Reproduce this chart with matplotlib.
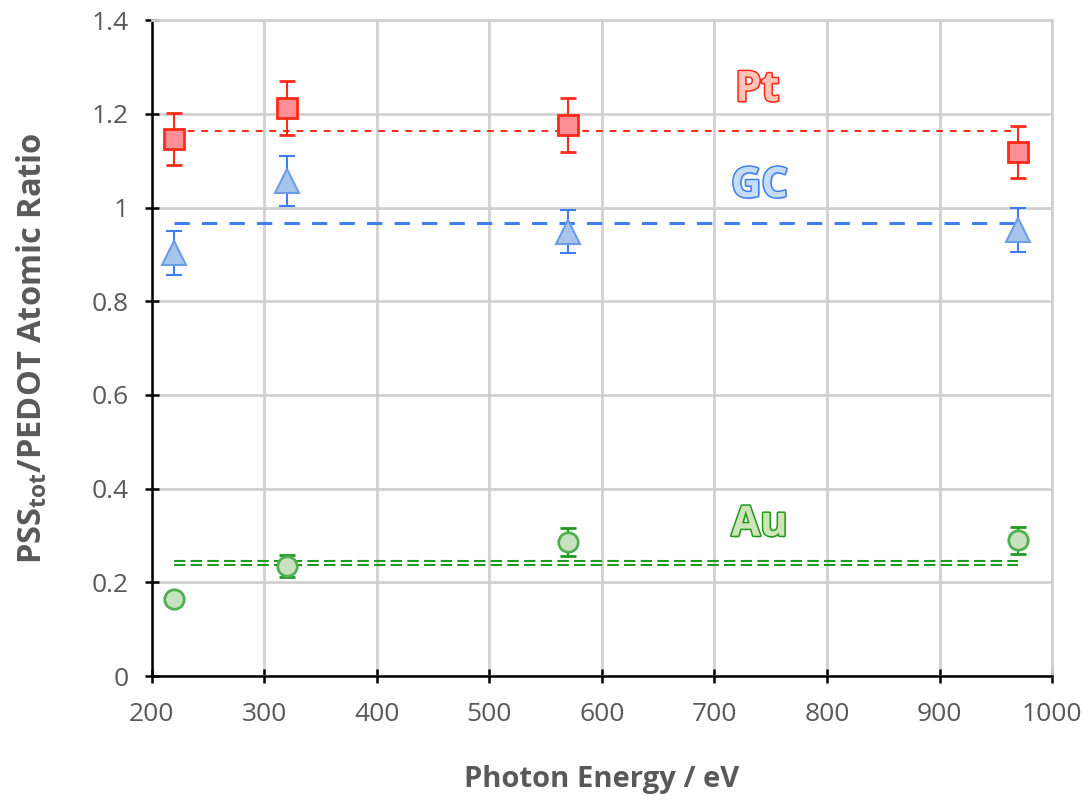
import numpy as np
import matplotlib.pyplot as plt
import matplotlib.patheffects as pe

plt.rcParams['font.family'] = ['Open Sans', 'DejaVu Sans']

# photon energies (eV)
energy = [220, 320, 570, 970]

# PSS_tot / PEDOT ratio for each substrate
pt_ratio = [1.146, 1.212, 1.176, 1.118]
pt_err = [0.056, 0.058, 0.057, 0.056]
gc_ratio = [0.903, 1.056, 0.948, 0.952]
gc_err = [0.046, 0.053, 0.046, 0.046]
au_ratio = [0.164, 0.235, 0.286, 0.290]
au_err = [0.0, 0.023, 0.030, 0.029]

# averages over all energies
pt_mean = 1.163
gc_mean = 0.967
au_mean = 0.241

x_ticks = [200, 300, 400, 500, 600, 700, 800, 900, 1000]
y_ticks = [0, 0.2, 0.4, 0.6, 0.8, 1, 1.2, 1.4]
y_ticklabels = ['0', '0.2', '0.4', '0.6', '0.8', '1', '1.2', '1.4']

red = '#ff2a1a'
blue = '#3f7ef0'
green = '#1f9a1f'
grey_txt = '#595959'

fig = plt.figure(figsize=(10.85, 8.05), dpi=100)
ax = fig.add_axes([0.140, 0.1602, 0.8296, 0.8148])

ax.set_xlim(200, 1000)
ax.set_ylim(0, 1.4)
ax.set_xticks(x_ticks)
ax.set_yticks(y_ticks)
ax.set_yticklabels(y_ticklabels)
ax.grid(True, color='#d0d0d0', linewidth=2)
ax.set_axisbelow(True)

for side in ['top', 'right']:
    ax.spines[side].set_color('#d0d0d0')
    ax.spines[side].set_linewidth(2)
for side in ['left', 'bottom']:
    ax.spines[side].set_color('black')
    ax.spines[side].set_linewidth(1.8)
ax.tick_params(direction='inout', length=10, width=1.8, colors='black',
               labelcolor=grey_txt, labelsize=19)
ax.tick_params(axis='y', pad=12)
ax.tick_params(axis='x', pad=14)

# mean lines
ax.plot([energy[0], energy[-1]], [pt_mean, pt_mean], color=red, lw=1.4,
        dashes=(3.5, 3.5))
ax.plot([energy[0], energy[-1]], [gc_mean, gc_mean], color=blue, lw=2.2,
        dashes=(5, 4))
for off in (0.0036, -0.0036):
    ax.plot([energy[0], energy[-1]], [au_mean + off, au_mean + off],
            color=green, lw=1.5, dashes=(5.5, 2.5))

ax.errorbar(energy, pt_ratio, yerr=pt_err, fmt='s', ms=15, mfc='#ff8f96',
            mec=red, mew=2, ecolor=red, elinewidth=1.5, capsize=6, capthick=1.5)
ax.errorbar(energy, gc_ratio, yerr=gc_err, fmt='^', ms=17, mfc='#a7c5ea',
            mec='#6b9de8', mew=1.5, ecolor=blue, elinewidth=1.5, capsize=6,
            capthick=1.5)
ax.errorbar(energy, au_ratio, yerr=au_err, fmt='o', ms=14, mfc='#c8e2c0',
            mec='#4fb04f', mew=2, ecolor=green, elinewidth=1.5, capsize=6,
            capthick=1.5)

label_kw = dict(fontsize=30, fontweight='bold', ha='center', va='center')


def outlined(edge):
    return [pe.SimplePatchShadow(offset=(1.5, -1.5), shadow_rgbFace='#999999',
                                 alpha=0.35),
            pe.withStroke(linewidth=2.2, foreground=edge)]


ax.text(738, 1.250, 'Pt', color='#ffc6b8', path_effects=outlined(red),
        **label_kw)
ax.text(740, 1.045, 'GC', color='#c6dcf6', path_effects=outlined(blue),
        **label_kw)
ax.text(740, 0.322, 'Au', color='#cfe5b8', path_effects=outlined(green),
        **label_kw)

ax.set_xlabel('Photon Energy / eV', fontsize=21, fontweight='bold',
              color=grey_txt, labelpad=27)
ax.set_ylabel(r'PSS$_{\mathregular{tot}}$/PEDOT Atomic Ratio', fontsize=23.5,
              fontweight='bold', color=grey_txt, labelpad=30)

fig.savefig('out.png', dpi=100)
